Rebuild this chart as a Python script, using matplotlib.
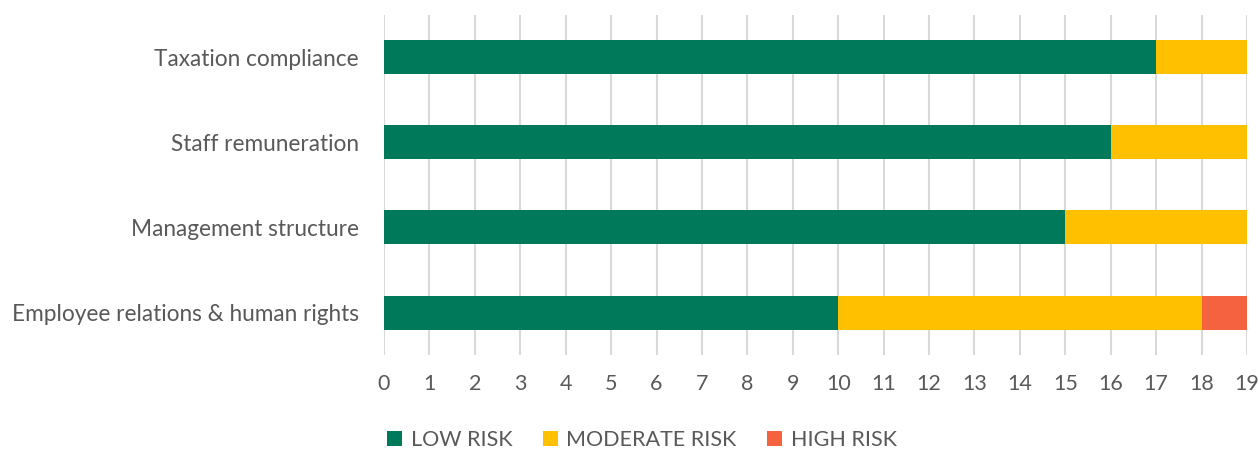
import matplotlib
matplotlib.use('Agg')
import matplotlib.pyplot as plt
import numpy as np

plt.rcParams['font.family'] = ['Lato', 'DejaVu Sans']

categories = ['Employee relations & human rights', 'Management structure',
              'Staff remuneration', 'Taxation compliance']
low_risk = [10, 15, 16, 17]
moderate_risk = [8, 4, 3, 2]
high_risk = [1, 0, 0, 0]

col_low = '#00785A'
col_mod = '#FFC000'
col_high = '#F4623F'
grey = '#595959'

fig = plt.figure(figsize=(12.59, 4.5), dpi=100)
ax = fig.add_axes([0.305, 0.211, 0.6855, 0.756])

y = np.arange(len(categories))
low = np.array(low_risk)
mod = np.array(moderate_risk)
high = np.array(high_risk)
ax.barh(y, low, height=0.4, color=col_low, label='LOW RISK', zorder=3)
ax.barh(y, mod, left=low, height=0.4, color=col_mod, label='MODERATE RISK', zorder=3)
ax.barh(y, high, left=low + mod, height=0.4, color=col_high, label='HIGH RISK', zorder=3)

ax.set_xlim(0, 19)
ax.set_ylim(-0.5, 3.5)
ax.set_xticks(np.arange(0, 20, 1))
ax.set_yticks(y)
ax.set_yticklabels(categories)
ax.tick_params(axis='both', length=0, labelsize=15.5, labelcolor=grey)
ax.tick_params(axis='x', pad=14)
ax.tick_params(axis='y', pad=18, labelsize=16.3)
ax.grid(axis='x', color='#D9D9D9', linewidth=1.5, zorder=0)
for s in ax.spines.values():
    s.set_visible(False)

ax.legend(loc='center', bbox_to_anchor=(642 / 1259, 1 - 440 / 450),
          bbox_transform=fig.transFigure, ncol=3, frameon=False,
          fontsize=15.5, labelcolor=grey, handlelength=0.7, handleheight=0.7,
          handletextpad=0.4, columnspacing=1.4)

plt.savefig('out.png', dpi=100)
